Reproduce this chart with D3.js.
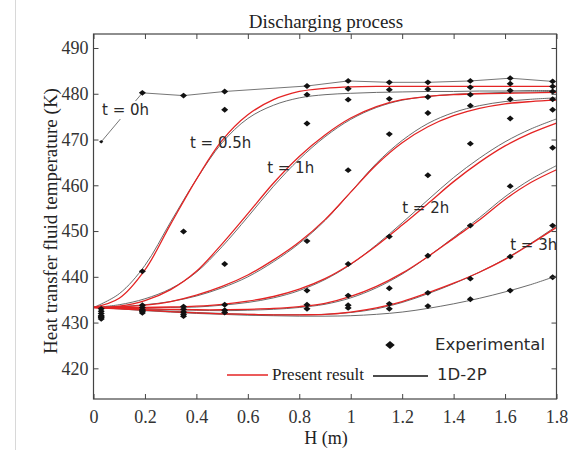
<!DOCTYPE html>
<html>
<head>
<meta charset="utf-8">
<script src="https://cdnjs.cloudflare.com/ajax/libs/d3/7.8.5/d3.min.js"></script>
<style>
  body { margin: 0; background: #fff; }
  svg { display: block; }
</style>
</head>
<body>
<script>
var width = 578;
var height = 450;

// plot frame in pixels (not "top": that name belongs to window)
var frameL = 93.5, frameR = 556.5, frameT = 34, frameB = 399;

// tick labels
var xTicks = [0, 0.2, 0.4, 0.6, 0.8, 1, 1.2, 1.4, 1.6, 1.8];
var xTickLabels = ['0', '0.2', '0.4', '0.6', '0.8', '1', '1.2', '1.4', '1.6', '1.8'];
var yTicks = [420, 430, 440, 450, 460, 470, 480, 490];
var yTickLabels = ['420', '430', '440', '450', '460', '470', '480', '490'];

// model grid, H (m)
var modelX = [0, 0.1, 0.2, 0.3, 0.4, 0.5, 0.6, 0.7, 0.8, 0.9, 1.0, 1.1, 1.2, 1.3, 1.4, 1.5, 1.6, 1.7, 1.8];

// present result (red)
var redA = [433.3, 435.3, 441.5, 451.5, 461.3, 469.8, 475.4, 478.7, 480.5, 481.2, 481.5, 481.6, 481.6, 481.6, 481.6, 481.6, 481.6, 481.6, 481.6];
var redB = [433.3, 433.6, 434.8, 437.2, 441.2, 447.2, 453.8, 460.5, 466.3, 471.0, 474.7, 477.2, 478.7, 479.4, 479.8, 480.0, 480.1, 480.2, 480.3];
var redC = [433.3, 433.4, 433.8, 434.6, 436.0, 437.9, 440.4, 443.7, 447.6, 452.5, 458.5, 464.5, 469.3, 472.8, 475.2, 476.8, 477.8, 478.3, 478.6];
var redD = [433.3, 433.3, 433.3, 433.4, 433.6, 434.0, 434.7, 435.7, 437.3, 439.6, 442.8, 446.8, 451.3, 456.0, 460.8, 465.0, 468.6, 471.4, 473.6];
var redE = [433.3, 433.1, 433.0, 432.9, 432.8, 432.8, 432.9, 433.1, 433.5, 434.2, 435.7, 437.9, 440.8, 444.4, 448.4, 452.4, 456.9, 460.6, 463.4];
var redF = [433.3, 433.0, 432.7, 432.4, 432.1, 431.9, 431.8, 431.7, 431.7, 431.8, 432.3, 433.2, 434.6, 436.5, 438.6, 441.0, 443.8, 447.2, 450.8];

// 1D-2P (black)
var grayA = [433.3, 436.3, 442.5, 452.0, 461.3, 469.3, 474.6, 477.5, 479.1, 479.8, 480.1, 480.3, 480.4, 480.5, 480.5, 480.6, 480.6, 480.7, 480.7];
var grayB = [433.3, 433.9, 435.2, 437.4, 441.0, 446.6, 453.1, 459.8, 465.7, 470.6, 474.4, 477.0, 478.6, 479.4, 479.9, 480.1, 480.3, 480.4, 480.5];
var grayC = [433.3, 433.5, 433.9, 434.6, 435.8, 437.6, 440.0, 443.3, 447.3, 452.3, 458.5, 464.8, 469.8, 473.5, 475.9, 477.4, 478.3, 478.8, 479.1];
var grayD = [433.3, 433.3, 433.3, 433.3, 433.4, 433.8, 434.4, 435.4, 437.0, 439.4, 442.7, 447.0, 451.8, 456.8, 461.7, 465.9, 469.5, 472.3, 474.5];
var grayE = [433.3, 433.2, 433.0, 432.8, 432.7, 432.6, 432.7, 432.9, 433.3, 434.0, 435.4, 437.6, 440.6, 444.4, 448.6, 452.9, 457.5, 461.3, 464.3];
var grayF = [433.3, 433.1, 432.8, 432.5, 432.2, 432.0, 431.8, 431.7, 431.7, 431.8, 432.2, 433.0, 434.4, 436.3, 438.5, 441.0, 443.9, 447.3, 451.1];
var grayG = [433.3, 433.0, 432.6, 432.3, 432.0, 431.8, 431.6, 431.5, 431.4, 431.4, 431.5, 431.8, 432.3, 433.1, 434.1, 435.3, 436.7, 438.3, 440.2];

// experimental, thermocouple positions
var expX = [0.03, 0.19, 0.35, 0.51, 0.83, 0.99, 1.15, 1.30, 1.465, 1.62, 1.785];
var expT0 = [469.5, 480.2, 479.6, 480.5, 481.7, 482.8, 482.5, 482.5, 482.8, 483.4, 482.7];
var expT05 = [433.0, 441.2, 449.9, 476.5, 479.8, 481.1, 480.9, 481.0, 481.4, 482.2, 481.6];
var expT1 = [432.5, 433.8, 433.5, 442.8, 473.5, 478.7, 478.9, 479.3, 479.8, 480.7, 480.5];
var expT15 = [432.0, 433.3, 432.9, 433.9, 447.8, 463.3, 471.2, 475.8, 477.4, 478.8, 478.8];
var expT2 = [431.5, 432.8, 432.3, 432.7, 437.0, 442.8, 448.8, 462.2, 469.1, 474.6, 476.5];
var expT25 = [431.1, 432.4, 431.8, 432.2, 433.9, 435.9, 437.5, 444.6, 451.2, 459.8, 468.2];
var expT3 = [430.8, 432.1, 431.4, null, 433.0, 433.8, 434.1, 436.5, 439.6, 444.4, 451.2];
var expT35 = [431.3, 432.6, null, null, null, 433.2, 433.0, 433.6, 435.1, 437.0, 439.9];

// curve labels: text, H, T
var labelText = ['t = 0h', 't = 0.5h', 't = 1h', 't = 2h', 't = 3h'];
var labelH = [0.033, 0.375, 0.675, 1.2, 1.62];
var labelT = [475.35, 468.1, 462.7, 453.9, 445.85];

var serif = '"Liberation Serif", "Times New Roman", serif';
var sans = '"DejaVu Sans", sans-serif';
var red = '#e42424';
var grey = '#5a5a5a';

var svg = d3.select('body').append('svg').attr('width', width).attr('height', height);

// faint page edge on the left
svg.append('line').attr('x1', 15.5).attr('x2', 15.5).attr('y1', 0).attr('y2', height)
  .style('stroke', '#d8d8d8').style('stroke-width', 1);

var x = d3.scaleLinear().domain([0, 1.8]).range([frameL, frameR]);
var y = d3.scaleLinear().domain([413.3, 493.06]).range([frameB, frameT]);

svg.append('clipPath').attr('id', 'plot')
  .append('rect').attr('x', frameL).attr('y', frameT)
  .attr('width', frameR - frameL).attr('height', frameB - frameT);

var plot = svg.append('g').attr('clip-path', 'url(#plot)');

var line = d3.line()
  .defined(function(d) { return d[1] != null; })
  .x(function(d) { return x(d[0]); })
  .y(function(d) { return y(d[1]); })
  .curve(d3.curveCatmullRom.alpha(0.5));

var pairs = function(xs, ys) {
  return xs.map(function(v, i) { return [v, ys[i]]; });
};

// 1D-2P curves first
[grayA, grayB, grayC, grayD, grayE, grayF, grayG].forEach(function(s) {
  plot.append('path').attr('d', line(pairs(modelX, s)))
    .style('fill', 'none').style('stroke', grey).style('stroke-width', 0.9);
});

// t = 0h: straight segments through the measured points
plot.append('path').attr('d', line.curve(d3.curveLinear)(pairs(expX, expT0)))
  .style('fill', 'none').style('stroke', '#666').style('stroke-width', 0.9);
line.curve(d3.curveCatmullRom.alpha(0.5));

[redA, redB, redC, redD, redE, redF].forEach(function(s) {
  plot.append('path').attr('d', line(pairs(modelX, s)))
    .style('fill', 'none').style('stroke', red).style('stroke-width', 1.3);
});

// flat diamond marker
var diamond = {
  draw: function(context, size) {
    var w = Math.sqrt(size) * 0.75, h = Math.sqrt(size) * 0.62;
    context.moveTo(-w, 0);
    context.lineTo(0, -h);
    context.lineTo(w, 0);
    context.lineTo(0, h);
    context.closePath();
  }
};

var points = [];
[expT0, expT05, expT1, expT15, expT2, expT25, expT3, expT35].forEach(function(s, k) {
  s.forEach(function(v, i) { if (v != null) points.push([expX[i], v, k === 0 && i === 0]); });
});

plot.selectAll('path.exp').data(points).enter().append('path')
  .attr('class', 'exp')
  .attr('transform', function(d) { return 'translate(' + x(d[0]) + ',' + y(d[1]) + ')'; })
  .attr('d', function(d) { return d3.symbol().type(diamond).size(d[2] ? 8 : 22)(); })
  .style('fill', '#111');

// curve labels
var labels = svg.selectAll('g.lab').data(labelText).enter().append('g').attr('class', 'lab');
labels.each(function(d, i) {
  var g = d3.select(this);
  var t = g.append('text')
    .attr('x', x(labelH[i])).attr('y', y(labelT[i]))
    .style('font-family', sans).style('font-size', '15px').style('fill', '#2a2a2a')
    .text(d);
  if (i === 0) {
    var b = t.node().getBBox();
    g.insert('rect', 'text').attr('x', b.x - 1).attr('y', b.y)
      .attr('width', b.width + 2).attr('height', b.height).style('fill', '#fff');
  }
});

// axes with inward ticks on all four sides
var axisStyle = function(g) {
  g.select('.domain').remove();
  g.selectAll('line').style('stroke', '#444').style('stroke-width', 1);
  g.selectAll('text').style('font-family', serif).style('font-size', '18px').style('fill', '#333');
};

svg.append('g').attr('transform', 'translate(0,' + frameB + ')')
  .call(d3.axisBottom(x).tickValues(xTicks).tickFormat(function(d, i) { return xTickLabels[i]; })
    .tickSizeInner(-5).tickSizeOuter(0).tickPadding(11))
  .call(axisStyle);
svg.append('g').attr('transform', 'translate(0,' + frameT + ')')
  .call(d3.axisTop(x).tickValues(xTicks).tickFormat('').tickSizeInner(-5).tickSizeOuter(0))
  .call(axisStyle);
svg.append('g').attr('transform', 'translate(' + frameL + ',0)')
  .call(d3.axisLeft(y).tickValues(yTicks).tickFormat(function(d, i) { return yTickLabels[i]; })
    .tickSizeInner(-5).tickSizeOuter(0).tickPadding(5))
  .call(axisStyle);
svg.append('g').attr('transform', 'translate(' + frameR + ',0)')
  .call(d3.axisRight(y).tickValues(yTicks).tickFormat('').tickSizeInner(-5).tickSizeOuter(0))
  .call(axisStyle);

svg.append('rect').attr('x', frameL).attr('y', frameT)
  .attr('width', frameR - frameL).attr('height', frameB - frameT)
  .style('fill', 'none').style('stroke', '#444').style('stroke-width', 1.2);

// legend
svg.append('path').attr('transform', 'translate(390,345)')
  .attr('d', d3.symbol().type(diamond).size(40)).style('fill', '#111');
svg.append('text').attr('x', 435).attr('y', 350)
  .style('font-family', sans).style('font-size', '16.5px').style('fill', '#2a2a2a')
  .text('Experimental');
svg.append('line').attr('x1', 227).attr('x2', 268).attr('y1', 375).attr('y2', 375)
  .style('stroke', red).style('stroke-width', 1.3);
svg.append('text').attr('x', 272).attr('y', 380)
  .style('font-family', serif).style('font-size', '17px').style('fill', '#222')
  .text('Present result');
svg.append('line').attr('x1', 373).attr('x2', 428).attr('y1', 376).attr('y2', 376)
  .style('stroke', '#111').style('stroke-width', 1.4);
svg.append('text').attr('x', 437).attr('y', 380)
  .style('font-family', sans).style('font-size', '16.5px').style('fill', '#2a2a2a')
  .text('1D-2P');

// titles
svg.append('text').attr('x', 326).attr('y', 28).attr('text-anchor', 'middle')
  .style('font-family', serif).style('font-size', '19px').style('fill', '#222')
  .text('Discharging process');
svg.append('text').attr('x', 326).attr('y', 444).attr('text-anchor', 'middle')
  .style('font-family', serif).style('font-size', '18px').style('fill', '#222')
  .text('H (m)');
svg.append('text').attr('transform', 'translate(57,221) rotate(-90)').attr('text-anchor', 'middle')
  .style('font-family', serif).style('font-size', '19px').style('fill', '#222')
  .text('Heat transfer fluid temperature (K)');
</script>
</body>
</html>
